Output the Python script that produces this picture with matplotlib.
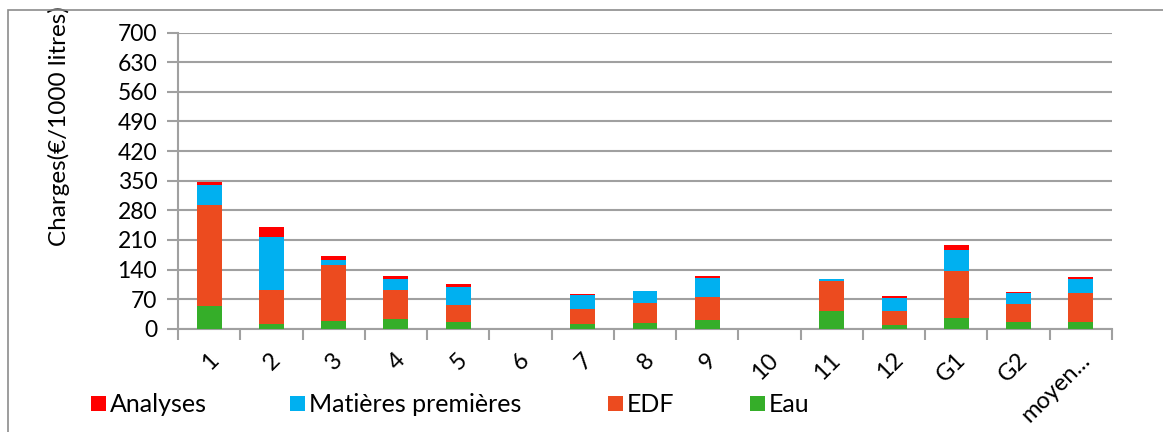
import matplotlib
matplotlib.use("Agg")
import matplotlib.pyplot as plt
from matplotlib.patches import Rectangle
import numpy as np

categories = ["1", "2", "3", "4", "5", "6", "7", "8", "9", "10", "11", "12", "G1", "G2", "moyen..."]
eau = [54, 12, 18, 24, 15, 0, 10, 13, 20, 0, 43, 8, 25, 15, 17]
edf = [238, 80, 133, 67, 40, 0, 37, 47, 55, 0, 69, 35, 111, 44, 67]
matieres = [47, 124, 12, 27, 44, 0, 32, 29, 46, 0, 6, 29, 50, 25, 33]
analyses = [8, 24, 9.5, 7, 7, 0, 3, 1, 3, 0, 0.5, 5, 12, 2, 5.5]
series_names = ["Analyses", "Matières premières", "EDF", "Eau"]
yticks = [0, 70, 140, 210, 280, 350, 420, 490, 560, 630, 700]

c_ana = "#FF0000"
c_mat = "#00B0F0"
c_edf = "#EC4B1F"
c_eau = "#35AE29"
grid_c = "#A0A0A0"

plt.rcParams['font.family'] = ['Lato', 'DejaVu Sans']

W, H = 1163, 432
fig = plt.figure(figsize=(W / 100, H / 100), dpi=100)
ax = fig.add_axes([178 / W, 1 - 328.7 / H, (1112 - 178) / W, (328.7 - 32.7) / H])

x = np.arange(len(categories))
bw = 0.4
b1 = np.array(eau, dtype=float)
b2 = b1 + np.array(edf)
b3 = b2 + np.array(matieres)
ax.bar(x, eau, bw, color=c_eau, zorder=3)
ax.bar(x, edf, bw, bottom=b1, color=c_edf, zorder=3)
ax.bar(x, matieres, bw, bottom=b2, color=c_mat, zorder=3)
ax.bar(x, analyses, bw, bottom=b3, color=c_ana, zorder=3)

ax.set_xlim(-0.5, len(categories) - 0.5)
ax.set_ylim(0, 700)
ax.set_yticks(yticks)
ax.yaxis.grid(True, color=grid_c, linewidth=1.5, zorder=0)
ax.set_axisbelow(True)
for s in ["top", "right"]:
    ax.spines[s].set_visible(False)
for s in ["left", "bottom"]:
    ax.spines[s].set_color(grid_c)
    ax.spines[s].set_linewidth(1.5)
ax.tick_params(axis="y", length=8, width=1.5, color=grid_c, pad=7, labelsize=16.5)
ax.set_xticks(np.arange(len(categories) + 1) - 0.5)
ax.set_xticklabels([])
ax.tick_params(axis="x", length=8, width=1.5, color=grid_c)
for i, lab in enumerate(categories):
    ax.annotate(lab, xy=(i, 0), xycoords="data", xytext=(4, -20), textcoords="offset points",
                rotation=45, ha="right", va="center", rotation_mode="anchor", fontsize=17)

ax.set_ylabel("Charges(€/1000 litres)", fontsize=17.5)
ax.yaxis.set_label_coords(-108 / (1112 - 178), (328.7 - 126) / (328.7 - 32.7))

# legend
leg_items = [(91, c_ana, series_names[0]), (290, c_mat, series_names[1]),
             (608, c_edf, series_names[2]), (750, c_eau, series_names[3])]
for px, col, name in leg_items:
    fig.patches.append(Rectangle((px / W, 1 - 411 / H), 15 / W, 15 / H, transform=fig.transFigure,
                                 facecolor=col, edgecolor="none"))
    fig.text((px + 19) / W, 1 - 404 / H, name, fontsize=18, va="center", ha="left")

# chart frame
fig.patches.append(Rectangle((8 / W, -0.1), 1.2, 1 - 10 / H + 0.1, transform=fig.transFigure,
                             facecolor="none", edgecolor="#8C8C8C", linewidth=1.2))

fig.savefig("out.png", dpi=100)
